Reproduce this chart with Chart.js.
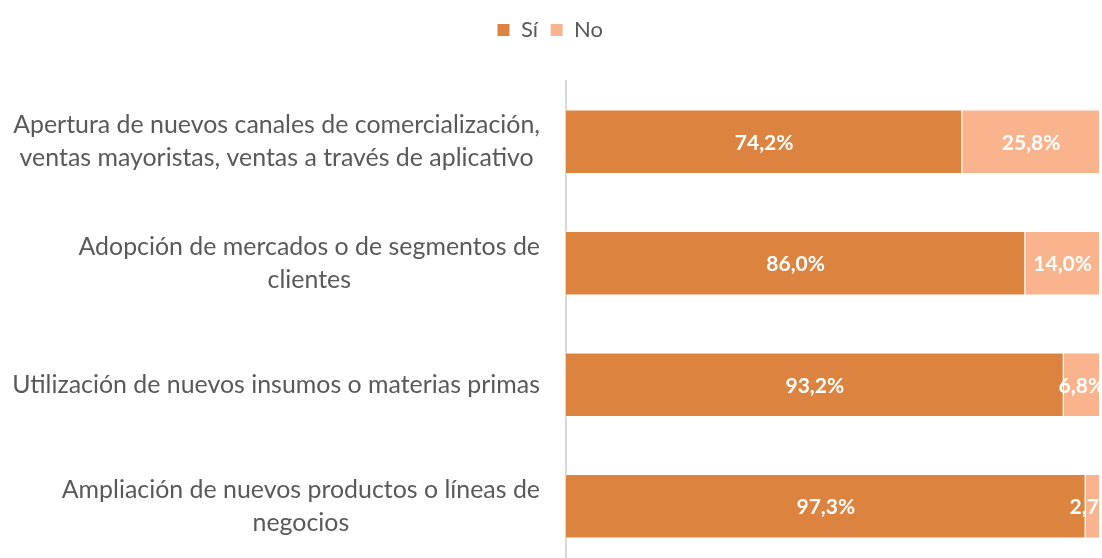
<!DOCTYPE html>
<html><head><meta charset="utf-8">
<script src="https://cdn.jsdelivr.net/npm/chart.js@4"></script>
<style>html,body{margin:0;padding:0;overflow:hidden;background:#fff;width:1102px;height:558px}#w{width:1132px;height:580px;position:relative}</style>
</head><body><div id="w"><canvas id="c"></canvas></div>
<script>
const categories = [
  ["Apertura de nuevos canales de comercialización,", "ventas mayoristas, ventas a través de aplicativo"],
  ["Adopción de mercados o de segmentos de", "clientes"],
  ["Utilización de nuevos insumos o materias primas"],
  ["Ampliación de nuevos productos o líneas de", "negocios"]
];
const seriesNames = ["Sí", "No"];
const siValues = [74.2, 86.0, 93.2, 97.3];
const noValues = [25.8, 14.0, 6.8, 2.7];
const colors = ["#DC833F", "#F9B48E"];

const labelFont = "Lato, 'Open Sans', sans-serif";

const catLabels = {
  id: 'catLabels',
  afterDraw(chart) {
    const ctx = chart.ctx, y = chart.scales.y;
    ctx.save();
    ctx.font = "20px " + labelFont;
    const ref = ctx.measureText(categories[2][0]).width;
    const size = 20 * 528 / ref;
    ctx.font = size.toFixed(2) + "px " + labelFont;
    ctx.fillStyle = "#595959";
    ctx.textAlign = "center";
    ctx.textBaseline = "middle";
    const right = 540, lh = 33;
    categories.forEach((lines, i) => {
      const cy = y.getPixelForValue(i);
      const w = Math.max(...lines.map(l => ctx.measureText(l).width));
      const cx = right - w / 2;
      lines.forEach((l, j) => {
        ctx.fillText(l, cx, cy + (j - (lines.length - 1) / 2) * lh);
      });
    });
    ctx.restore();
  }
};

const valueLabels = {
  id: 'valueLabels',
  afterDatasetsDraw(chart) {
    const ctx = chart.ctx;
    ctx.save();
    ctx.font = "bold 21px " + labelFont;
    ctx.fillStyle = "#fff";
    ctx.textAlign = "center";
    ctx.textBaseline = "middle";
    chart.data.datasets.forEach((ds, di) => {
      chart.getDatasetMeta(di).data.forEach((bar, i) => {
        const p = bar.getProps(['x', 'base', 'y'], true);
        const cx = (p.x + p.base) / 2;
        ctx.fillText(ds.data[i].toFixed(1).replace('.', ',') + '%', cx, p.y + 1);
      });
    });
    ctx.restore();
  }
};

const legendGap = {
  id: 'legendGap',
  beforeInit(chart) {
    const orig = chart.legend.fit;
    chart.legend.fit = function () { orig.bind(this)(); this.height += 30; };
  }
};

new Chart(document.getElementById('c'), {
  type: 'bar',
  data: {
    labels: categories.map(c => c.join(' ')),
    datasets: [
      { label: seriesNames[0], data: siValues, backgroundColor: colors[0], borderColor: '#ffffff', borderWidth: 1, categoryPercentage: 1, barPercentage: 0.53 },
      { label: seriesNames[1], data: noValues, backgroundColor: colors[1], borderColor: '#ffffff', borderWidth: 1, categoryPercentage: 1, barPercentage: 0.53 }
    ]
  },
  options: {
    indexAxis: 'y',
    responsive: true,
    maintainAspectRatio: false,
    animation: false,
    layout: { padding: { left: 0, right: 32, top: 7, bottom: 13 } },
    plugins: {
      legend: {
        position: 'top',
        labels: { boxWidth: 13, boxHeight: 13, padding: 12, color: '#595959', font: { family: labelFont, size: 22 } }
      },
      tooltip: { enabled: false }
    },
    scales: {
      x: { stacked: true, min: 0, max: 100, display: false },
      y: {
        stacked: true,
        grid: { display: false, drawTicks: false },
        border: { color: '#D9D9D9', width: 2 },
        ticks: { display: false },
        afterFit(s) { s.width = 566; }
      }
    }
  },
  plugins: [legendGap, catLabels, valueLabels]
});
</script>
</body></html>
